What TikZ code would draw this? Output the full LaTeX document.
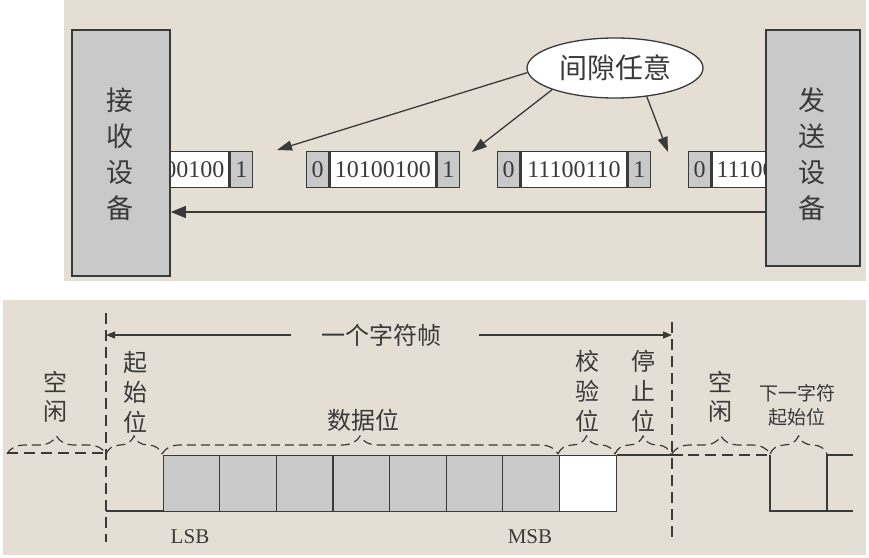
\documentclass[tikz,border=0pt]{standalone}
\usepackage{fontspec}
\setmainfont{Liberation Serif}
\newfontfamily\cjk{Noto Sans CJK SC}
\usetikzlibrary{arrows.meta,shapes.geometric,decorations.pathreplacing}
\definecolor{bg}{HTML}{E4DED4}
\definecolor{boxgray}{HTML}{C9C9CA}
\definecolor{ink}{HTML}{3A3A3A}
\begin{document}
\begin{tikzpicture}[x=1pt,y=-1pt,
  conn/.style={draw=ink, line width=1.3pt},
  device/.style={draw=ink, line width=1.8pt, fill=boxgray, inner sep=0, anchor=north west},
  devtext/.style={font=\cjk\fontsize{27}{36}\selectfont, text=ink, align=center, inner sep=0},
  cell/.style={draw=ink, line width=1.3pt, fill=boxgray, minimum width=22, minimum height=36, inner sep=0, anchor=north west, font=\fontsize{24}{24}\selectfont, text=ink},
  datacell/.style={cell, fill=white, minimum width=106},
  digits/.style={font=\fontsize{24}{24}\selectfont, text=ink, inner sep=0},
  wave/.style={draw=ink, line width=1.3pt},
  dline/.style={draw=ink, line width=1.3pt, dash pattern=on 11pt off 6pt},
  bit/.style={draw=ink, line width=1.3pt, fill=boxgray, minimum width=56.6, minimum height=56, inner sep=0, anchor=north west},
  bracestyle/.style={draw=ink, line width=1.2pt, dash pattern=on 9pt off 5pt, decorate, decoration={brace, amplitude=18pt}},
  lab/.style={font=\cjk\fontsize{24}{30}\selectfont, text=ink, align=center, inner sep=0},
  smalllab/.style={font=\cjk\fontsize{19}{24}\selectfont, text=ink, align=center, inner sep=0},
  latin/.style={font=\fontsize{21}{21}\selectfont, text=ink, inner sep=0}
]
\useasboundingbox (0,0) rectangle (869,557);
\fill[white] (0,0) rectangle (869,557);
\fill[bg] (64,0) rectangle (866,281);
\fill[bg] (3,300) rectangle (866,555);

% ---------- top panel: frames ----------
\foreach \n/\x/\t in {2/306/10100100, 3/497/11100110} {
  \node[cell] (f\n-a) at (\x,151) {0};
  \node[datacell] (f\n-b) at (f\n-a.north east) {\t};
  \node[cell] (f\n-c) at (f\n-b.north east) {1};
}
% partly hidden frames (left and right)
\node[cell] (f1-a) at (99,151) {};
\node[datacell] (f1-b) at (f1-a.north east) {};
\node[cell] (f1-c) at (f1-b.north east) {1};
\node[digits, anchor=east] (f1-t) at ([xshift=-5pt]f1-b.east) {00100};
\node[cell] (f4-a) at (688,151) {0};
\node[datacell] (f4-b) at (f4-a.north east) {};
\node[digits, anchor=west] (f4-t) at ([xshift=5pt]f4-b.west) {11100};

% devices
\node[device, minimum width=98, minimum height=246] (recv) at (71,29) {};
\node[device, minimum width=94, minimum height=236] (send) at (765,29) {};
\node[devtext] (recvtext) at (120,154) {接\\收\\设\\备};
\node[devtext] (sendtext) at (812,154) {发\\送\\设\\备};

% transmission arrow
\coordinate (ay) at (0,212);
\draw[conn, -{Triangle[length=15pt,width=12pt]}] (send.west |- ay) -- (recv.east |- ay);

% gap ellipse and arrows
\node[ellipse, draw=ink, fill=white, line width=1.3pt, minimum width=176, minimum height=60, inner sep=0,
      font=\cjk\fontsize{28}{28}\selectfont, text=ink] (gap) at (615,68) {间隙任意};
\coordinate (g1) at (277,150);
\coordinate (g2) at (472,152);
\coordinate (g3) at (668,152);
\draw[conn, -{Triangle[length=15pt,width=10pt]}] (gap.183) -- (g1);
\draw[conn, -{Triangle[length=15pt,width=10pt]}] (gap.199) -- (g2);
\draw[conn, -{Triangle[length=15pt,width=10pt]}] (gap.318) -- (g3);

% ---------- bottom panel ----------
% frame boundaries
\draw[dline] (106,313) -- (106,542);
\draw[dline] (672,322) -- (672,542);

% frame label with arrows
\node[lab] (frm) at (381,335) {一个字符帧};
\coordinate (vl) at (106,335);
\coordinate (vr) at (672,335);
\draw[wave, -{Triangle[length=9pt,width=7pt]}] ([xshift=-30pt]frm.west) -- (vl);
\draw[wave, -{Triangle[length=9pt,width=7pt]}] ([xshift=38pt]frm.east) -- (vr);

% waveform
\draw[dline] (7,453) -- (106,453);
\draw[wave] (106,511) -- (163,511);
\foreach \i in {0,...,6} {
  \node[bit] (b\i) at (162.5+56.6*\i,455) {};
}
\node[bit, fill=white, minimum width=57] (par) at (558.7,455) {};
\draw[wave] (par.north east) -- (683,455);
\draw[dline] (688,455) -- (770,455);
\draw[wave] (770,455) -- (770,511) -- (827,511) -- (827,455) -- (853,455);
\draw[wave] (827,511) -- (853,511);

% braces
\draw[bracestyle] (7,454) -- (106,454);
\draw[bracestyle] (106,454) -- (162,454);
\draw[bracestyle] (162,454) -- (558,454);
\draw[bracestyle] (558,454) -- (615,454);
\draw[bracestyle] (615,454) -- (671,454);
\draw[bracestyle] (672,454) -- (770,454);
\draw[bracestyle] (770,454) -- (827,454);

% labels
\node[lab, font=\cjk\fontsize{24}{29}\selectfont] (idle1) at (55,397) {空\\闲};
\node[lab] (start) at (135,392) {起\\始\\位};
\node[lab] (data) at (363,420) {数据位};
\node[lab] (parity) at (587,391) {校\\验\\位};
\node[lab] (stop) at (643,391) {停\\止\\位};
\node[lab, font=\cjk\fontsize{24}{29}\selectfont] (idle2) at (720,397) {空\\闲};
\node[smalllab] (next) at (797,405) {下一字符\\起始位};
\node[latin] (lsb) at (190,537) {LSB};
\node[latin] (msb) at (530,537) {MSB};
\end{tikzpicture}
\end{document}
